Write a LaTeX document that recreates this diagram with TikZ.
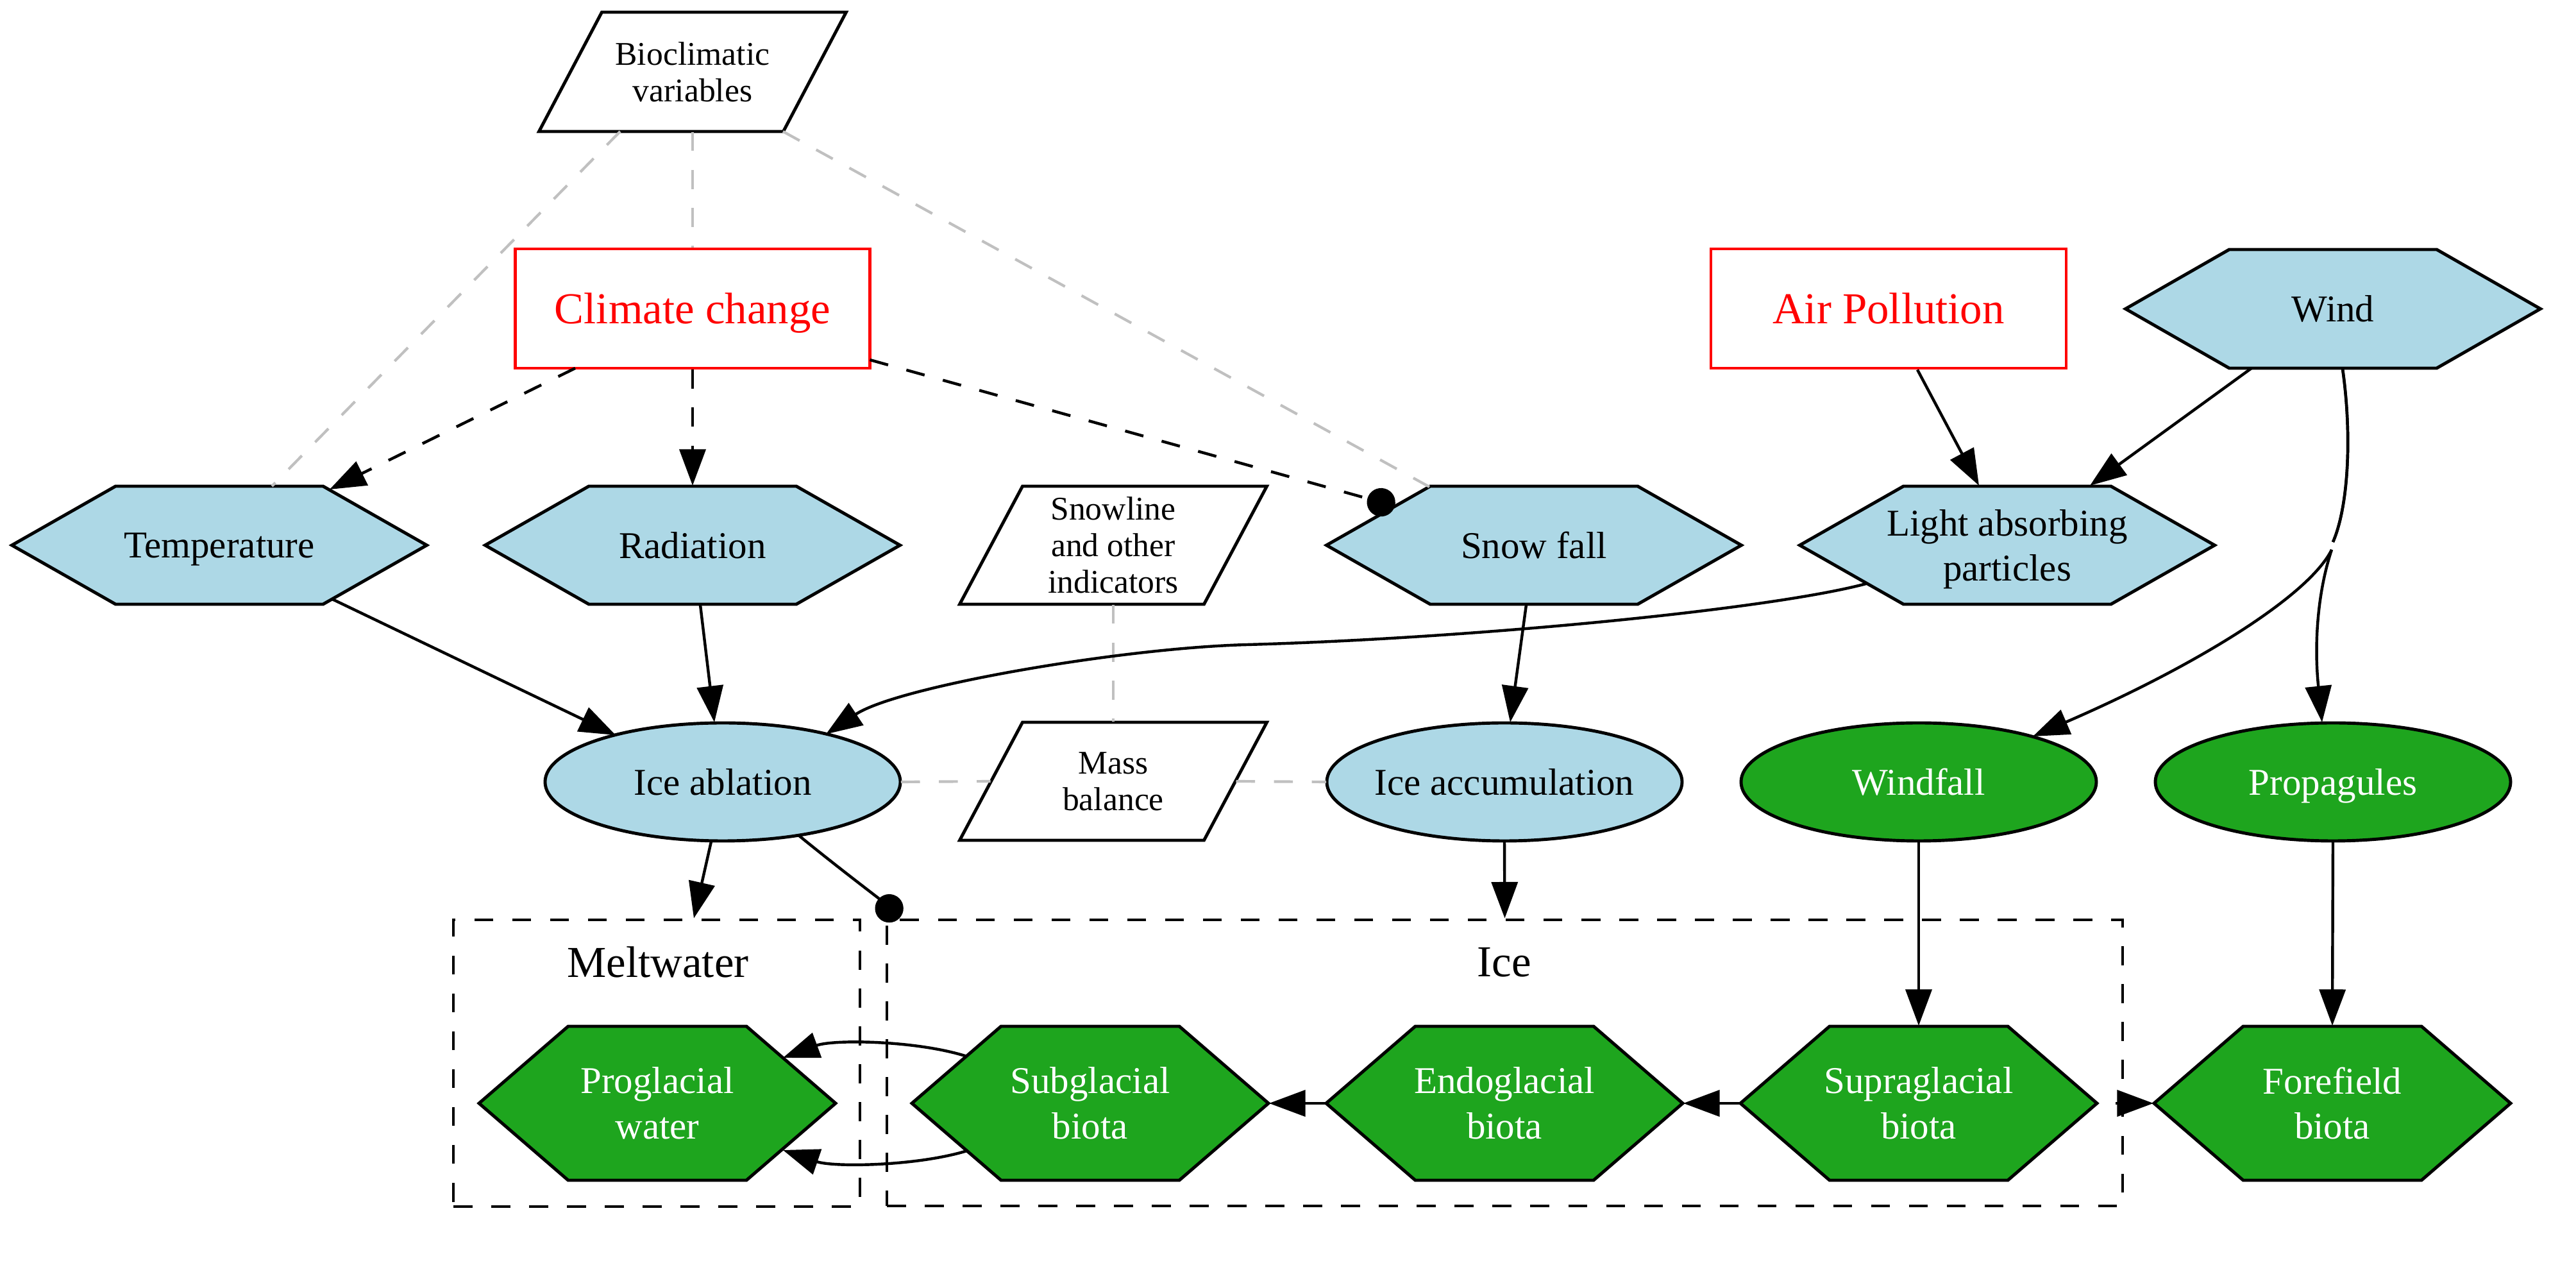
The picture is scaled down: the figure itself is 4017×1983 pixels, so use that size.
\documentclass[tikz,border=0pt]{standalone}
\usepackage{fontspec}
\setmainfont{Liberation Serif}
\usetikzlibrary{arrows.meta,calc}
\definecolor{lblue}{HTML}{ADD8E6}
\definecolor{ggreen}{RGB}{30,165,30}
\definecolor{lgrey}{HTML}{C0C0C0}
\newcommand\nodepth[1]{\raisebox{0pt}[\height][0pt]{#1}}
\tikzset{
  every node/.style={inner sep=0pt, align=center},
  bshape/.style={draw=black, fill=lblue, line width=1pt, line join=miter},
  gshape/.style={draw=black, fill=ggreen, line width=1pt, line join=miter},
  wshape/.style={draw=black, fill=white, line width=1pt, line join=miter},
  btext/.style={text=black, font=\fontsize{12}{14.4}\selectfont},
  gtext/.style={text=white, font=\fontsize{12}{14.4}\selectfont},
  stext/.style={text=black, font=\fontsize{10.5}{11.6}\selectfont},
  redbox/.style={draw=red, line width=1pt, text=red, font=\fontsize{14}{16.8}\selectfont},
  clusterbox/.style={draw=black, line width=1pt, dash pattern=on 6pt off 6pt},
  clusterlabel/.style={text=black, font=\fontsize{14}{16.8}\selectfont},
  edge/.style={draw=black, line width=0.9pt},
  arr/.style={edge, -{Triangle[length=11.5pt,width=8.3pt]}},
  dotarr/.style={edge, -{Circle[length=9pt]}},
  blackdash/.style={dash pattern=on 6pt off 6pt},
  greydash/.style={draw=lgrey, line width=0.85pt, dash pattern=on 6pt off 6pt},
}
\newcommand\hexn[7]{%
  \draw[#6shape] ({#2-#4/2},#3) -- ({#2-#4/4},{#3-#5/2}) -- ({#2+#4/4},{#3-#5/2}) -- ({#2+#4/2},#3) -- ({#2+#4/4},{#3+#5/2}) -- ({#2-#4/4},{#3+#5/2}) -- cycle;
  \node[#6text, minimum width={#4*0.2033pt}, minimum height={#5*0.2033pt}] (#1) at (#2,#3) {#7};}
\newcommand\elln[7]{%
  \draw[#6shape] (#2,#3) ellipse [x radius={#4*0.10165pt}, y radius={#5*0.10165pt}];
  \node[#6text, minimum width={#4*0.2033pt}, minimum height={#5*0.2033pt}] (#1) at (#2,#3) {#7};}
\newcommand\paran[6]{%
  \draw[wshape] ({#2-#4/2+49},{#3-#5/2}) -- ({#2+#4/2+49},{#3-#5/2}) -- ({#2+#4/2-49},{#3+#5/2}) -- ({#2-#4/2-49},{#3+#5/2}) -- cycle;
  \node[stext, minimum width={#4*0.2033pt}, minimum height={#5*0.2033pt}] (#1) at (#2,#3) {#6};}
\begin{document}
\begin{tikzpicture}[x=0.2033pt, y=-0.2033pt]
\useasboundingbox (0,0) rectangle (4017,1983);

% clusters
\node[clusterbox, minimum width={634*0.2033pt}, minimum height={447*0.2033pt}] (melt) at (1024,1657.5) {};
\node[clusterlabel] (meltlabel) at (1026,1500) {Meltwater};
\node[clusterbox, minimum width={1927*0.2033pt}, minimum height={446*0.2033pt}] (ice) at (2346.5,1657) {};
\node[clusterlabel] (icelabel) at (2346,1500) {Ice};

% top row
\paran{bio}{1080}{112}{381}{186}{Bioclimatic\\variables}
\node[redbox, minimum width={553*0.2033pt}, minimum height={186*0.2033pt}] (climate) at (1080,481) {\nodepth{Climate change}};
\node[redbox, minimum width={554*0.2033pt}, minimum height={186*0.2033pt}] (airpol) at (2945,481) {Air Pollution};
\hexn{wind}{3638}{481.5}{647}{185}{b}{Wind}

% second row
\hexn{temp}{342}{850}{647}{184}{b}{\nodepth{Temperature}}
\hexn{rad}{1080}{850}{647}{184}{b}{Radiation}
\paran{snowline}{1736}{850}{381}{184}{Snowline\\and other\\indicators}
\hexn{snowfall}{2392}{850}{647}{184}{b}{Snow fall}
\hexn{light}{3130}{850}{647}{184}{b}{Light absorbing\\\nodepth{particles}}

% third row
\elln{ablation}{1127}{1219}{554}{184}{b}{Ice ablation}
\paran{mass}{1736}{1218}{381}{184}{Mass\\balance}
\elln{accum}{2346}{1219}{554}{184}{b}{Ice accumulation}
\elln{windfall}{2992}{1219}{554}{184}{g}{Windfall}
\elln{propag}{3638}{1219}{554}{184}{g}{\nodepth{Propagules}}

% bottom row
\hexn{proglac}{1025}{1720}{556}{240}{g}{Proglacial\\water}
\hexn{subglac}{1700}{1720}{556}{240}{g}{Subglacial\\biota}
\hexn{endoglac}{2346}{1720}{556}{240}{g}{Endoglacial\\biota}
\hexn{supraglac}{2992}{1720}{556}{240}{g}{Supraglacial\\biota}
\hexn{forefield}{3637}{1720}{556}{240}{g}{Forefield\\biota}

% grey dashed links
\draw[greydash] ($(bio)+(-113,93)$) -- ($(temp)+(82,-92)$);
\draw[greydash] (bio.south) -- (climate.north);
\draw[greydash] ($(bio)+(141,93)$) -- ($(snowfall)+(-163,-91)$);
\draw[greydash] (snowline.south) -- (mass.north);
\draw[greydash] (ablation.east) -- (mass.west);
\draw[greydash] (mass.east) -- (accum.west);

% black dashed
\draw[arr, blackdash] ($(climate)+(-183,93)$) -- ($(temp)+(172,-87)$);
\draw[arr, blackdash] (climate.south) -- (rad.north);
\draw[dotarr, blackdash] ($(climate)+(276.5,80)$) -- ($(snowfall)+(-217,-61)$);

% solid edges
\draw[arr] ($(temp)+(176,84)$) -- ($(ablation)+(-167,-73)$);
\draw[arr] ($(rad.south)+(12,0)$) -- ($(ablation.north)+(-13,0)$);
\draw[arr] ($(light)+(-220,60)$) .. controls (2760,950) and (2300,995) .. (1945,1005)
  .. controls (1750,1010) and (1400,1070) .. ($(ablation)+(161,-74.5)$);
\draw[arr] ($(snowfall.south)+(-12,0)$) -- ($(accum.north)+(9,0)$);
\draw[arr] ($(airpol.south)+(45,0)$) -- ($(light.north)+(-44,0)$);
\draw[arr] ($(wind)+(-127,92.5)$) -- ($(light.north)+(129,0)$);
\coordinate (windgapA) at (3638,845);
\coordinate (windgapB) at (3636,857);
\draw[arr] ($(wind.south)+(15,0)$) .. controls (3668,680) and (3662,790) .. (windgapA)
  (windgapB) .. controls (3600,930) and (3420,1040) .. ($(windfall)+(178,-71)$);
\draw[arr] ($(wind.south)+(15,0)$) .. controls (3668,680) and (3662,790) .. (windgapA)
  (windgapB) .. controls (3615,920) and (3608,1000) .. ($(propag.north)+(-17,0)$);
\draw[arr] (windfall.south) -- (supraglac.north);
\draw[arr] (propag.south) -- (forefield.north);
\draw[arr] (accum.south) -- (ice.north);
\draw[arr] ($(ablation.south)+(-18,0)$) -- ($(melt.north)+(58,0)$);
\draw[dotarr] ($(ablation)+(118,83)$) .. controls (1310,1355) and (1370,1400) .. ($(ice.north west)+(22,0)$);
\draw[arr] (supraglac.west) -- (endoglac.east);
\draw[arr] (endoglac.west) -- (subglac.east);
\draw[arr] ($(subglac)+(-192,-73)$) .. controls (1430,1622) and (1300,1620) .. ($(proglac)+(196,-71)$);
\draw[arr] ($(subglac)+(-192,74)$) .. controls (1430,1818) and (1300,1820) .. ($(proglac)+(196,73)$);
\draw[arr] ($(supraglac.east)+(28,0)$) -- (forefield.west);
\end{tikzpicture}
\end{document}
